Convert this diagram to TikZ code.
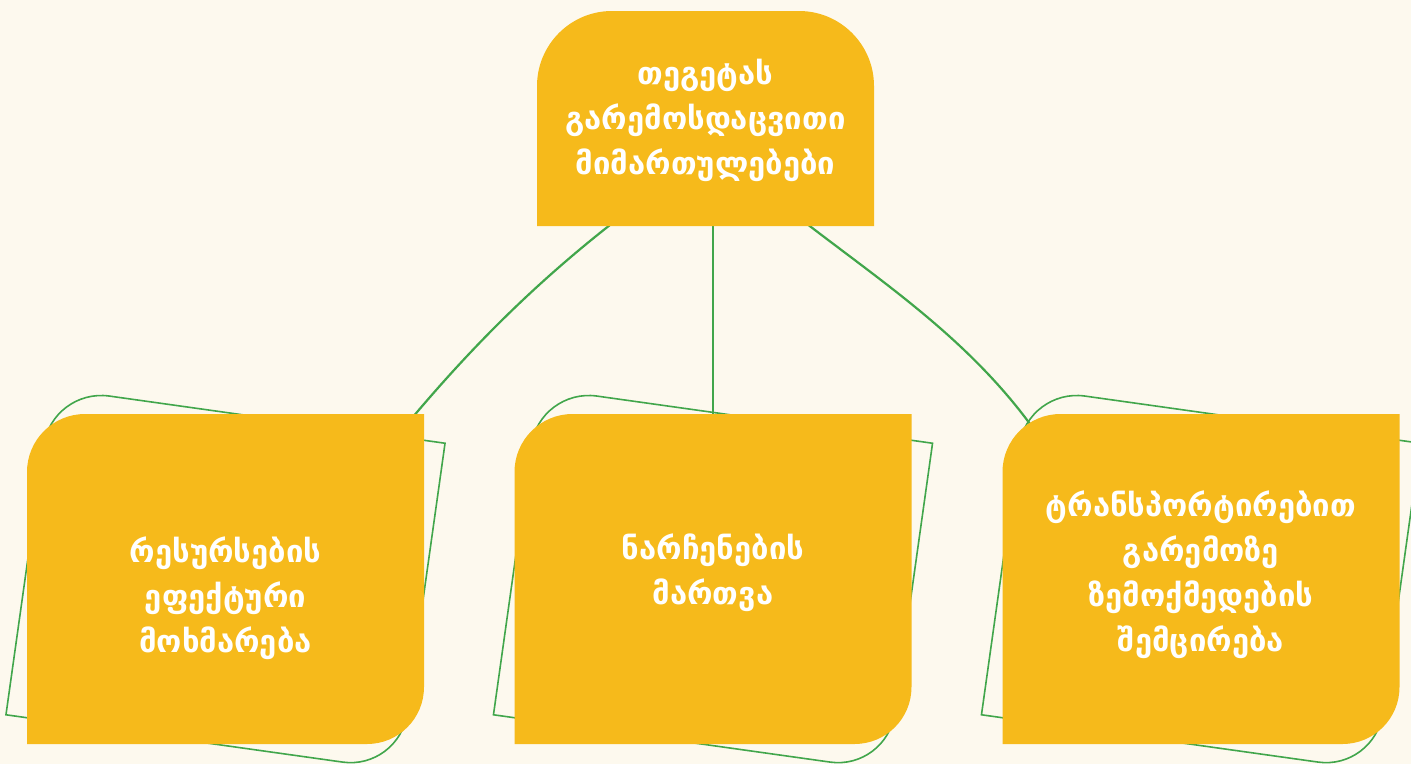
\documentclass[tikz,border=0pt]{standalone}
\usepackage{fontspec}
\setmainfont{DejaVu Sans}
\usetikzlibrary{calc}
\definecolor{bg}{HTML}{FDF9EE}
\definecolor{gold}{HTML}{F6BA1B}
\definecolor{leaf}{HTML}{41A64B}
\pgfdeclarelayer{back}
\pgfdeclarelayer{mid}
\pgfsetlayers{back,mid,main}
\tikzset{
  childpath/.style={insert path={(-198.5,165) -- (-198.5,-107) .. controls (-198.5,-139) and (-172.5,-165) .. (-140.5,-165) -- (198.5,-165) -- (198.5,108) .. controls (198.5,139.5) and (173,165) .. (141.5,165) -- cycle}},
  toppath/.style={insert path={(-168.5,107.5) -- (-168.5,-32.5) .. controls (-168.5,-73.9) and (-134.9,-107.5) .. (-93.5,-107.5) -- (93.5,-107.5) .. controls (134.9,-107.5) and (168.5,-73.9) .. (168.5,-32.5) -- (168.5,107.5) -- cycle}},
  boxnode/.style={inner sep=0pt, minimum width=397pt, minimum height=330pt},
  topnode/.style={inner sep=0pt, minimum width=337pt, minimum height=215pt},
  label/.style={text=white, align=center, inner sep=0pt, font=\fontsize{31}{45}\selectfont\bfseries},
  conn/.style={draw=leaf, line width=2.2pt},
  outline/.style={draw=leaf, line width=1.6pt},
}
\begin{document}
\begin{tikzpicture}[x=1pt,y=-1pt]
\useasboundingbox (0,0) rectangle (1411,764);
\begin{pgfonlayer}{back}
\fill[bg] (0,0) rectangle (1411,764);
\end{pgfonlayer}

\node[topnode] (top) at (705.5,118.5) {};
\node[boxnode] (left) at (225.5,579) {};
\node[boxnode] (mid) at (713,579) {};
\node[boxnode] (right) at (1201,579) {};

\begin{pgfonlayer}{back}
\foreach \n in {left,mid,right}{
  \begin{scope}[shift={(\n.center)}, rotate=-8]
    \path[outline, childpath];
  \end{scope}
}
\draw[conn] ($(top.south)+(-92,-4)$) .. controls +(-76,59.4) and +(67.5,-81) .. ($(left.north)+(180,12)$);
\draw[conn] (top.south -| mid.north) -- (mid.north);
\draw[conn] ($(top.south)+(99.3,-4)$) .. controls +(82,63.2) and +(-64.4,-90) .. ($(right.north)+(-166,17)$);
\end{pgfonlayer}

\begin{pgfonlayer}{mid}
\fill[gold, shift={(top.center)}, toppath];
\foreach \n in {left,mid,right}{
  \fill[gold, shift={(\n.center)}, childpath];
}
\end{pgfonlayer}

\node[label] (toplabel) at (705.5,120) {თეგეტას\\გარემოსდაცვითი\\მიმართულებები};
\node[label] (leftlabel) at (225.5,598) {რესურსების\\ეფექტური\\მოხმარება};
\node[label] (midlabel) at (713,572.5) {ნარჩენების\\მართვა};
\node[label] (rightlabel) at (1201,575) {ტრანსპორტირებით\\გარემოზე\\ზემოქმედების\\შემცირება};
\end{tikzpicture}
\end{document}
